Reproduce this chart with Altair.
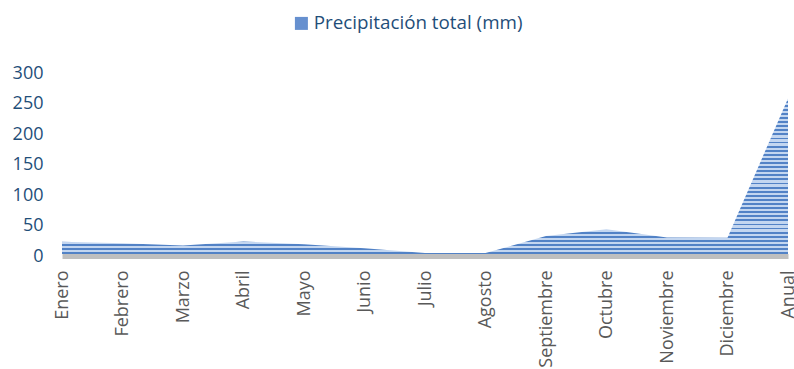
import altair as alt
import pandas as pd

meses = ["Enero", "Febrero", "Marzo", "Abril", "Mayo", "Junio", "Julio",
         "Agosto", "Septiembre", "Octubre", "Noviembre", "Diciembre", "Anual"]
precip = [20, 17.5, 14, 20.5, 16, 9.5, 1.5, 1.5, 29.5, 40.5, 27, 26.5, 255]
serie = "Precipitación total (mm)"
y_ticks = [0, 50, 100, 150, 200, 250, 300]

df = pd.DataFrame({"mes": meses, "valor": precip, "serie": serie})

DARK = "#5282c6"
LIGHT = "#c3d6f0"


def stripes(n, dark_frac=0.45):
    stops = []
    for k in range(n):
        a, c = k / n, (k + 1) / n
        b = (k + 1 - dark_frac) / n
        stops += [
            alt.GradientStop(offset=a, color=LIGHT),
            alt.GradientStop(offset=b, color=LIGHT),
            alt.GradientStop(offset=b, color=DARK),
            alt.GradientStop(offset=c, color=DARK),
        ]
    return alt.LinearGradient(gradient="linear", x1=0, x2=0, y1=0, y2=1, stops=stops)


base = alt.Chart(df)

area = base.mark_area(fill=stripes(38), interpolate="linear").encode(
    x=alt.X(
        "mes:N",
        sort=meses,
        scale=alt.Scale(type="point", padding=0),
        axis=alt.Axis(
            title=None,
            labelAngle=270,
            ticks=False,
            grid=False,
            domainColor="#bfbfbf",
            domainWidth=5,
            offset=2,
            labelPadding=14,
            labelFont="Open Sans",
            labelFontSize=18,
            labelColor="#595959",
            zindex=1,
        ),
    ),
    y=alt.Y(
        "valor:Q",
        stack=None,
        scale=alt.Scale(domain=[0, 300], nice=False),
        axis=alt.Axis(
            title=None,
            values=y_ticks,
            domain=False,
            ticks=False,
            grid=False,
            labelFont="Open Sans",
            labelFontSize=18,
            labelColor="#1f4e79",
            labelPadding=19,
            labelOffset=2,
        ),
    ),
)

legend_layer = base.mark_square(opacity=0).encode(
    color=alt.Color(
        "serie:N",
        scale=alt.Scale(domain=[serie], range=["#6690cf"]),
        legend=alt.Legend(
            title=None,
            orient="none",
            legendX=230,
            legendY=-57,
            padding=0,
            symbolType="square",
            symbolSize=169,
            symbolOpacity=1,
            symbolStrokeWidth=0,
            symbolFillColor="#6690cf",
            labelFont="Open Sans",
            labelFontSize=18.8,
            labelColor="#1f4e79",
            labelOffset=3,
            labelLimit=0,
        ),
    )
)

chart = (
    alt.layer(area, legend_layer)
    .properties(
        width=726,
        height=183,
        padding={"left": 62, "top": 71, "right": 6, "bottom": 115},
        autosize="none",
        background="white",
    )
    .configure_view(stroke=None)
)

chart.save("out.html", embed_options={"renderer": "svg", "actions": False})
